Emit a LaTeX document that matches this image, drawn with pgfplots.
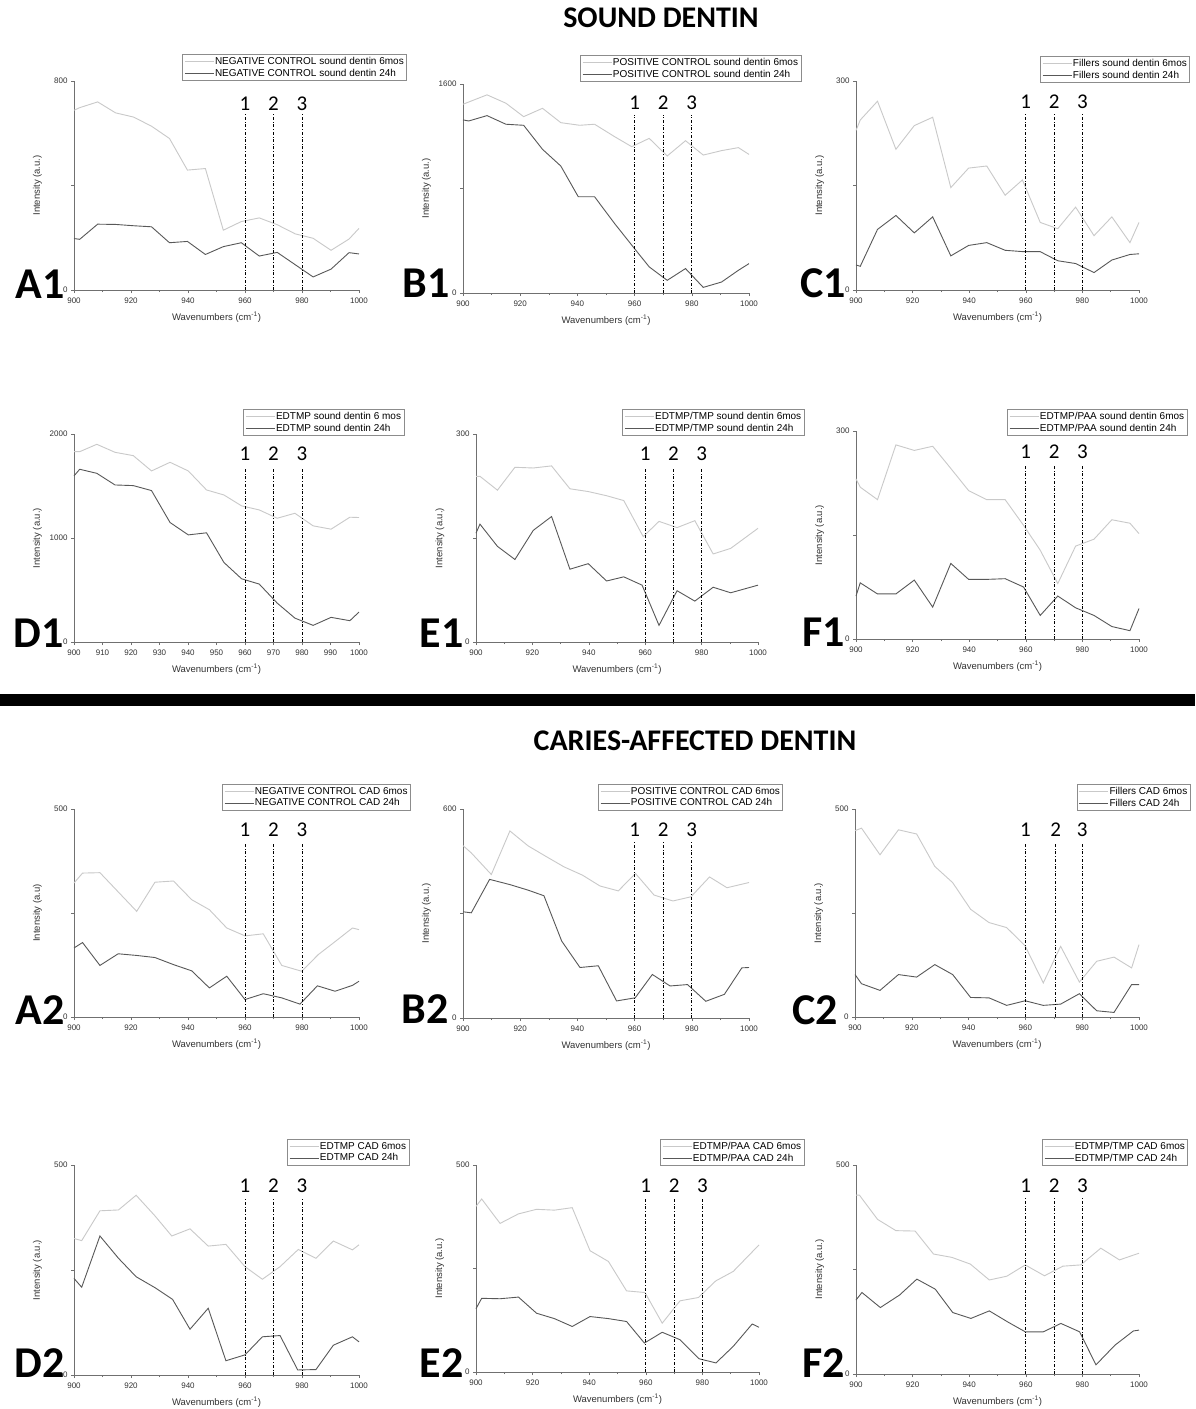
\documentclass[border=0pt]{standalone}
\usepackage{fontspec}
\setmainfont{Liberation Sans}
\newfontfamily\calibri{Carlito}
\usepackage{pgfplots}
\pgfplotsset{compat=1.18}
\definecolor{lightser}{HTML}{C9C9C9}
\definecolor{darkser}{HTML}{585858}
\definecolor{axgray}{HTML}{707070}
\definecolor{textgray}{HTML}{333333}
\definecolor{leggray}{HTML}{8C8C8C}
\newcommand\ticklabfont{\fontsize{8}{8.5}\selectfont}
\newcommand\labfont{\fontsize{9.5}{10}\selectfont}
\newcommand\legfont{\fontsize{10}{10}\selectfont}
\newcommand\numfont{\calibri\fontsize{21}{21}\selectfont}
\newcommand\panfont{\calibri\bfseries\fontsize{44}{44}\selectfont}
\newcommand\titfont{\calibri\bfseries\fontsize{30}{30}\selectfont}
\def\vtop{0.84}
\def\vlab{0.9}
\newcommand\vl[2]{%
  \draw[dash dot, line width=0.7pt] (axis cs:#1,0) -- ({axis cs:#1,0} |- {rel axis cs:0,\vtop});
  \node[font=\numfont, inner sep=0pt] at ({axis cs:#1,0} |- {rel axis cs:0,\vlab}) {#2};}
\pgfplotsset{
  panel/.style={
    scale only axis, clip=false,
    axis x line=bottom, axis y line=left,
    axis line style={-, draw=axgray, line width=0.7pt},
    xmin=900, xmax=1000, ymin=0,
    xtick={900,920,...,1000}, minor xtick={910,930,...,990},
    tick align=outside,
    major tick length=3pt, minor tick length=2pt,
    every tick/.style={draw=axgray, line width=0.6pt},
    tick label style={font=\ticklabfont, text=textgray},
    xticklabel style={yshift=-1pt},
    /pgf/number format/assume math mode=true,
    /pgf/number format/set thousands separator={},
    xlabel={Wavenumbers (cm\textsuperscript{-1})},
    ylabel={Intensity (a.u.)},
    xlabel style={at={(axis description cs:0.5,0)}, anchor=center, yshift=-27pt, font=\labfont, text=textgray},
    ylabel style={at={(axis description cs:-0.128,0.5)}, anchor=center, font=\labfont, text=textgray},
    legend cell align=left,
    legend style={anchor=north west, draw=leggray, line width=0.6pt, font=\legfont, inner sep=2pt, row sep=1.5pt, nodes={inner sep=0.8pt}, fill=white},
    legend image code/.code={\path (0pt,0pt) -- (29pt,0pt); \draw[##1] (6pt,0pt) -- (28pt,0pt);},
  },
  lt/.style={lightser, line width=0.9pt},
  dk/.style={darkser, line width=0.9pt},
}
\begin{document}
\begin{tikzpicture}
\fill[white] (0,0) rectangle (1195pt,-1409pt);
\node[font=\titfont] at (661pt,-18pt) {SOUND DENTIN};
\node[font=\titfont] at (695pt,-741pt) {CARIES-AFFECTED DENTIN};
\fill[black] (0pt,-694pt) rectangle (1195pt,-706pt);

% A1
\begin{axis}[panel, at={(74pt,-290pt)}, anchor=south west, width=285pt, height=209pt, ymax=800, ytick={0,400,800}, yticklabels={0,{},800}, legend style={at={(0.379,1.129)}}]
\addplot[lt] coordinates {(900,688)(902,698)(908.3,720)(914.6,678)(920.9,662)(927.2,627)(933.5,580)(939.8,459)(946.1,465)(952.4,229)(958.7,262)(965,276)(971.3,250)(977.6,215)(983.9,198)(990.2,152)(996.5,195)(1000,236)};
\addlegendentry{NEGATIVE CONTROL sound dentin 6mos}
\addplot[dk] coordinates {(900,197)(902,194)(908.3,252)(914.6,251)(920.9,246)(927.2,242)(933.5,181)(939.8,186)(946.1,136)(952.4,166)(958.7,181)(965,130)(971.3,144)(977.6,97)(983.9,50)(990.2,80)(996.5,143)(1000,138)};
\addlegendentry{NEGATIVE CONTROL sound dentin 24h}
\def\vlab{0.893}
\vl{960}{1}\vl{970}{2}\vl{980}{3}
\end{axis}

% B1
\begin{axis}[panel, at={(463pt,-293pt)}, anchor=south west, width=286pt, height=209pt, ymax=1600, ytick={0,800,1600}, yticklabels={0,{},1600}, legend style={at={(0.409,1.139)}}]
\addplot[lt] coordinates {(900,1445)(908.4,1517)(915,1453)(921.2,1350)(927.8,1414)(934.2,1304)(940.8,1284)(946,1292)(953,1197)(959,1120)(965.1,1184)(971.4,1049)(977.8,1166)(984,1056)(990.4,1090)(996.3,1113)(1000,1061)};
\addlegendentry{POSITIVE CONTROL sound dentin 6mos}
\addplot[dk] coordinates {(900,1325)(902,1317)(908.4,1358)(915,1292)(921.2,1284)(927.8,1100)(934.2,972)(940.3,737)(946,737)(953,532)(959.5,353)(965.1,200)(971.4,97)(977.8,187)(984,43)(990.4,84)(996.3,174)(1000,225)};
\addlegendentry{POSITIVE CONTROL sound dentin 24h}
\def\vtop{0.85}\def\vlab{0.91}
\vl{960}{1}\vl{970}{2}\vl{980}{3}
\end{axis}

% C1
\begin{axis}[panel, at={(856pt,-290pt)}, anchor=south west, width=283pt, height=209pt, ymax=300, ytick={0,150,300}, yticklabels={0,{},300}, legend style={at={(0.650,1.12)}}]
\addplot[lt] coordinates {(900,229)(901.5,244)(907.6,271)(914.1,202)(920.6,236)(927.1,248)(933.5,147)(939.8,175)(946.2,178)(952.7,136)(958.8,158)(965.1,97)(971.3,88)(977.6,119)(984.1,78)(990.4,105)(996.8,68)(1000,97)};
\addlegendentry{Fillers sound dentin 6mos}
\addplot[dk] coordinates {(900,36)(901.5,34)(907.6,87)(914.1,107)(920.6,82)(927.1,105)(933.5,49)(939.8,64)(946.2,68)(952.7,57)(959.2,55)(965.1,55)(971.3,42)(977.6,38)(984.1,25)(990.4,43)(996.8,51)(1000,52)};
\addlegendentry{Fillers sound dentin 24h}
\vl{960}{1}\vl{970}{2}\vl{980}{3}
\end{axis}

% D1
\begin{axis}[panel, at={(74pt,-642pt)}, anchor=south west, width=285pt, height=208pt, ymax=2000, ytick={0,1000,2000}, xtick={900,910,...,1000}, minor xtick={}, legend style={at={(0.593,1.12)}}]
\addplot[lt] coordinates {(900,1830)(902,1830)(908,1901)(914.4,1824)(920.8,1792)(927.2,1645)(933.7,1728)(940.1,1645)(946.5,1462)(952.6,1414)(958.8,1309)(965,1270)(971.3,1190)(977.5,1238)(983.9,1117)(990.2,1085)(996.8,1200)(1000,1197)};
\addlegendentry{EDTMP sound dentin 6 mos}
\addplot[dk] coordinates {(900,1597)(902,1661)(908,1622)(914.4,1510)(920.8,1504)(927.2,1456)(933.7,1149)(940.1,1030)(946.5,1050)(952.6,765)(958.8,608)(965,557)(971.3,374)(977.5,230)(983.9,160)(990.2,237)(996.8,205)(1000,288)};
\addlegendentry{EDTMP sound dentin 24h}
\def\vlab{0.907}
\vl{960}{1}\vl{970}{2}\vl{980}{3}
\end{axis}

% E1
\begin{axis}[panel, at={(476pt,-642pt)}, anchor=south west, width=282pt, height=208pt, ymax=300, ytick={0,150,300}, yticklabels={0,{},300}, legend style={at={(0.518,1.12)}}]
\addplot[lt] coordinates {(900,239)(901.4,239)(907.6,219)(913.8,252)(920.3,251)(926.8,254)(933.3,221)(939.8,217)(946.3,211)(952.4,204)(959.3,152)(964.9,174)(971.3,165)(977.6,175)(984.1,127)(990.3,135)(1000,164)};
\addlegendentry{EDTMP/TMP sound dentin 6mos}
\addplot[dk] coordinates {(900,157)(901.4,170)(907.6,138)(913.8,119)(920.3,161)(926.8,181)(933.3,105)(939.8,113)(946.3,88)(952.4,94)(958.9,82)(964.9,24)(971.3,74)(977.6,59)(984.1,79)(990.3,71)(1000,82)};
\addlegendentry{EDTMP/TMP sound dentin 24h}
\def\vlab{0.907}
\vl{960}{1}\vl{970}{2}\vl{980}{3}
\end{axis}

% F1
\begin{axis}[panel, at={(856pt,-639pt)}, anchor=south west, width=283pt, height=208pt, ymax=300, ytick={0,150,300}, yticklabels={0,{},300}, legend style={at={(0.533,1.106)}}]
\addplot[lt] coordinates {(900,231)(901.5,219)(907.6,201)(914.1,280)(920.6,272)(927.1,278)(933.5,246)(939.8,214)(946.2,201)(952.7,201)(959.2,164)(965.1,128)(971.3,80)(977.6,134)(984.1,144)(990.4,172)(996.8,167)(1000,152)};
\addlegendentry{EDTMP/PAA sound dentin 6mos}
\addplot[dk] coordinates {(900,62)(901.5,81)(907.6,65)(914.1,65)(920.6,85)(927.1,46)(933.5,109)(939.8,86)(946.2,86)(952.7,87)(959.2,75)(965.1,34)(971.3,62)(977.6,45)(984.1,34)(990.4,18)(996.8,12)(1000,44)};
\addlegendentry{EDTMP/PAA sound dentin 24h}
\vl{960}{1}\vl{970}{2}\vl{980}{3}
\end{axis}

% A2
\begin{axis}[panel, at={(74pt,-1017pt)}, anchor=south west, width=285pt, height=208pt, ymax=500, ytick={0,250,500}, yticklabels={0,{},500}, ylabel={Intensity (a.u)}, legend style={at={(0.519,1.12)}}]
\addplot[lt] coordinates {(900,322)(903,346)(909.1,347)(922,254)(928.4,324)(934.9,327)(941.3,282)(947.5,258)(953.6,214)(960,195)(966.4,200)(972.9,124)(979.9,110)(985.7,150)(991,178)(997.7,214)(1000,210)};
\addlegendentry{NEGATIVE CONTROL CAD 6mos}
\addplot[dk] coordinates {(900,166)(903,179)(909.1,124)(915.5,152)(922,148)(928.4,143)(934.9,126)(941.3,111)(947.5,70)(953.6,98)(960,42)(966.4,56)(972.9,46)(979.3,31)(985.4,75)(991.6,62)(997.7,76)(1000,86)};
\addlegendentry{NEGATIVE CONTROL CAD 24h}
\vl{960}{1}\vl{970}{2}\vl{980}{3}
\end{axis}

% B2
\begin{axis}[panel, at={(463pt,-1018pt)}, anchor=south west, width=286pt, height=209pt, ymax=600, ytick={0,300,600}, yticklabels={0,{},600}, legend style={at={(0.472,1.12)}}]
\addplot[lt] coordinates {(900,495)(902.9,474)(909.9,412)(916.4,537)(922.8,494)(929.2,463)(935.3,434)(941.8,410)(947.9,379)(954.3,365)(960.3,415)(966.8,353)(973.4,336)(979.7,348)(986.2,405)(992.3,374)(1000,389)};
\addlegendentry{POSITIVE CONTROL CAD 6mos}
\addplot[dk] coordinates {(900,305)(902.9,302)(909.3,398)(916.4,383)(922.8,367)(928.3,351)(934.5,221)(940.9,145)(947.3,150)(953.7,49)(960.2,58)(966.2,125)(972.4,92)(978.5,96)(984.9,48)(991.4,68)(997.5,144)(1000,145)};
\addlegendentry{POSITIVE CONTROL CAD 24h}
\vl{960}{1}\vl{970}{2}\vl{980}{3}
\end{axis}

% C2
\begin{axis}[panel, at={(855pt,-1017pt)}, anchor=south west, width=284pt, height=208pt, ymax=500, ytick={0,250,500}, yticklabels={0,{},500}, legend style={at={(0.78,1.12)}}]
\addplot[lt] coordinates {(900,448)(902.3,454)(908.8,390)(915.3,450)(921.7,440)(928.1,362)(934.4,323)(940.7,259)(947.2,227)(953.4,215)(959.9,171)(966.3,82)(972.4,170)(979,84)(985.1,134)(991.2,144)(997.4,118)(1000,174)};
\addlegendentry{Fillers CAD 6mos}
\addplot[dk] coordinates {(900,102)(902.3,80)(908.8,64)(915.3,102)(921.7,96)(928.1,126)(934.4,102)(940.7,47)(947.2,46)(953.4,28)(959.9,39)(966.3,28)(972.4,31)(979,56)(985.1,15)(991.2,11)(997.4,78)(1000,78)};
\addlegendentry{Fillers CAD 24h}
\vl{960}{1}\vl{970.7}{2}\vl{980}{3}
\end{axis}

% D2
\begin{axis}[panel, at={(74pt,-1375pt)}, anchor=south west, width=285pt, height=210pt, ymax=500, ytick={0,250,500}, yticklabels={0,{},500}, legend style={at={(0.747,1.124)}}]
\addplot[lt] coordinates {(900,325)(902.7,320)(909.1,391)(915.6,393)(921.8,428)(928.4,379)(934.3,331)(940.7,348)(947.1,307)(953.3,311)(960,258)(966.1,228)(972.3,258)(978.7,299)(984.9,278)(991,319)(997.7,298)(1000,310)};
\addlegendentry{EDTMP CAD 6mos}
\addplot[dk] coordinates {(900,230)(902.7,209)(909.1,331)(915.6,278)(921.8,234)(928.4,208)(934.6,180)(940.7,109)(947.1,159)(953.3,34)(960,48)(966.1,91)(972.3,94)(978.5,12)(984.9,13)(991,71)(997.7,91)(1000,79)};
\addlegendentry{EDTMP CAD 24h}
\vl{960}{1}\vl{970}{2}\vl{980}{3}
\end{axis}

% E2
\begin{axis}[panel, at={(476pt,-1372pt)}, anchor=south west, width=283pt, height=207pt, ymax=500, ytick={0,250,500}, yticklabels={0,{},500}, legend style={at={(0.65,1.126)}}]
\addplot[lt] coordinates {(900,400)(902,418)(908.5,359)(915,382)(921.4,393)(927.7,391)(934,397)(940.3,293)(946.8,267)(953.2,196)(959.7,192)(965.8,118)(972.1,172)(978.6,180)(984.7,220)(990.9,243)(1000,307)};
\addlegendentry{EDTMP/PAA CAD 6mos}
\addplot[dk] coordinates {(900,153)(902,178)(908.5,177)(915,181)(921.4,142)(927.7,129)(934,110)(940.3,134)(946.8,129)(953.2,122)(959.5,70)(965.8,96)(972.1,78)(978.8,32)(984.8,22)(990.9,62)(997.6,116)(1000,108)};
\addlegendentry{EDTMP/PAA CAD 24h}
\vl{960}{1}\vl{970}{2}\vl{980}{3}
\end{axis}

% F2
\begin{axis}[panel, at={(856pt,-1374pt)}, anchor=south west, width=283pt, height=209pt, ymax=500, ytick={0,250,500}, yticklabels={0,{},500}, legend style={at={(0.657,1.124)}}]
\addplot[lt] coordinates {(900,428)(901.2,428)(907.6,370)(914.1,343)(920.9,342)(927.4,287)(933.9,279)(940.4,263)(947.1,225)(953.3,234)(959.8,261)(966.6,235)(973.1,258)(979.4,261)(986.5,301)(993.1,273)(1000,289)};
\addlegendentry{EDTMP/TMP CAD 6mos}
\addplot[dk] coordinates {(900,177)(902.1,195)(908.6,159)(915.4,189)(921.5,227)(928,203)(934.2,147)(940.6,133)(947.1,151)(953.5,125)(959.8,101)(966.2,101)(972.4,121)(979,101)(984.8,22)(991.5,69)(998,103)(1000,105)};
\addlegendentry{EDTMP/TMP CAD 24h}
\vl{960}{1}\vl{970}{2}\vl{980}{3}
\end{axis}

\node[font=\panfont, anchor=base west] at (12pt,-298pt) {A1};
\node[font=\panfont, anchor=base west] at (399pt,-297pt) {B1};
\node[font=\panfont, anchor=base west] at (797pt,-297pt) {C1};
\node[font=\panfont, anchor=base west] at (10pt,-647pt) {D1};
\node[font=\panfont, anchor=base west] at (416pt,-647pt) {E1};
\node[font=\panfont, anchor=base west] at (799pt,-646pt) {F1};
\node[font=\panfont, anchor=base west] at (12pt,-1024pt) {A2};
\node[font=\panfont, anchor=base west] at (398pt,-1023pt) {B2};
\node[font=\panfont, anchor=base west] at (789pt,-1024pt) {C2};
\node[font=\panfont, anchor=base west] at (11pt,-1377pt) {D2};
\node[font=\panfont, anchor=base west] at (416pt,-1377pt) {E2};
\node[font=\panfont, anchor=base west] at (799pt,-1377pt) {F2};

\pgfresetboundingbox
\path[use as bounding box] (0,0) rectangle (1195pt,-1409pt);
\end{tikzpicture}
\end{document}
